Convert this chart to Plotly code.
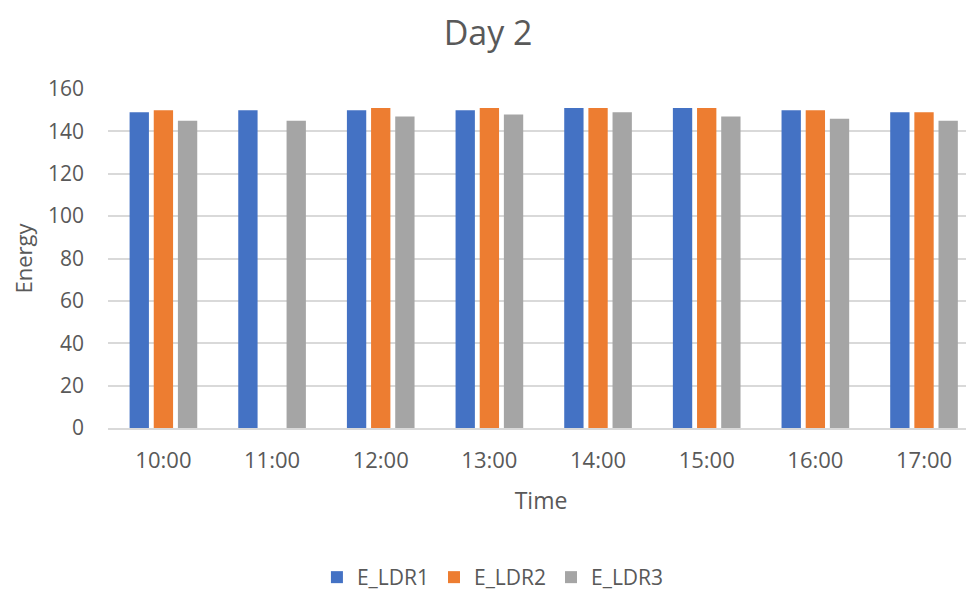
import plotly.graph_objects as go

times = ["10:00", "11:00", "12:00", "13:00", "14:00", "15:00", "16:00", "17:00"]
e_ldr1 = [149, 150, 150, 150, 151, 151, 150, 149]
e_ldr2 = [150, None, 151, 151, 151, 151, 150, 149]
e_ldr3 = [145, 145, 147, 148, 149, 147, 146, 145]
series_names = ["E_LDR1", "E_LDR2", "E_LDR3"]
colors = ["#4472C4", "#ED7D31", "#A5A5A5"]
y_ticks = [0, 20, 40, 60, 80, 100, 120, 140, 160]

FONT = "Open Sans"
TXT = "#595959"

fig = go.Figure()
for name, vals, col in zip(series_names, [e_ldr1, e_ldr2, e_ldr3], colors):
    fig.add_trace(go.Bar(x=times, y=vals, name=name, marker=dict(color=col, line=dict(width=0))))

fig.update_layout(
    width=966, height=590,
    paper_bgcolor="white", plot_bgcolor="white",
    margin=dict(l=100, r=0, t=81, b=170, autoexpand=False),
    barmode="group", bargap=0.333, bargroupgap=0.2,
    font=dict(family=FONT, color=TXT, size=21),
    title=dict(text="Day 2", x=0.497, xref="container", xanchor="center",
               y=0.958, yref="container", yanchor="middle",
               font=dict(size=34, color=TXT, family=FONT)),
    xaxis=dict(range=[-0.51, 7.46], showgrid=False, showline=True, linecolor="#D9D9D9", linewidth=1.5,
               ticks="", tickfont=dict(size=22, color=TXT), ticklabelstandoff=12,
               title=dict(text="Time", font=dict(size=23, color=TXT), standoff=20)),
    yaxis=dict(range=[0, 160], tickvals=y_ticks, showgrid=True, gridcolor="#D9D9D9", gridwidth=1.5,
               zeroline=False, showline=False, ticks="", tickfont=dict(size=21, color=TXT),
               ticklabelstandoff=23,
               title=dict(text="Energy", font=dict(size=22, color=TXT), standoff=12)),
    legend=dict(orientation="h", xref="container", yref="container", x=0.502, y=-0.01,
                xanchor="center", yanchor="bottom", font=dict(size=21, color=TXT),
                itemwidth=30, traceorder="normal"),
)

fig.write_html("out.html")
